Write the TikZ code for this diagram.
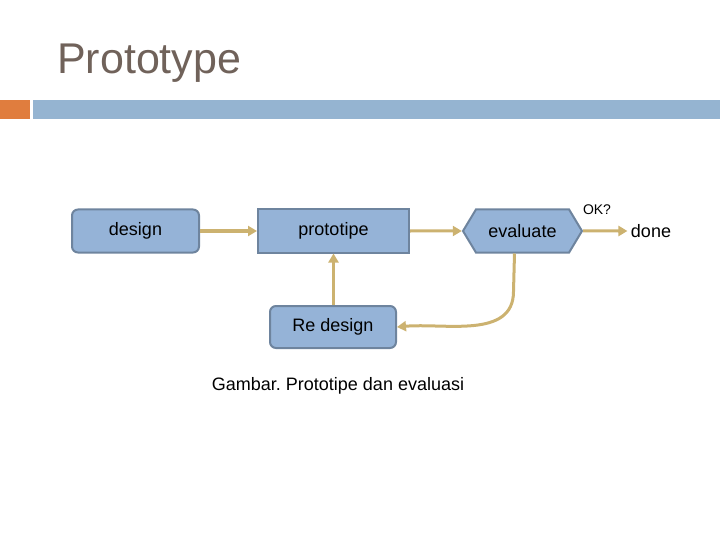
\documentclass[tikz,border=0pt]{standalone}
\usepackage{fontspec}
\setmainfont{Liberation Sans}
\usetikzlibrary{arrows.meta,shapes.symbols}
\definecolor{boxfill}{RGB}{149,179,215}
\definecolor{boxline}{RGB}{110,132,158}
\definecolor{flow}{RGB}{204,178,112}
\definecolor{titlecol}{RGB}{112,98,90}
\definecolor{barorange}{RGB}{224,125,62}
\definecolor{barblue}{RGB}{149,180,209}
\frenchspacing

\begin{document}
\begin{tikzpicture}[
        x=1pt, y=-1pt,
        >={Triangle[length=9pt,width=10pt]},
        every node/.style={font=\fontsize{18}{21}\selectfont},
        stepbox/.style={draw=boxline, fill=boxfill, line width=2pt, minimum height=43pt, inner sep=0pt},
        roundbox/.style={stepbox, rounded corners=6pt},
        evalbox/.style={stepbox, shape=signal, signal to=west and east, signal pointer angle=118, minimum width=119pt},
        flowline/.style={->, line width=3pt, draw=flow}
    ]

    \useasboundingbox (0,0) rectangle (720,540);

    % header
    \node[anchor=base west, text=titlecol, font=\fontsize{43}{50}\selectfont, inner sep=0pt] (title) at (57,74) {Prototype};
    \fill[barorange] (0,100) rectangle (30,119);
    \fill[barblue] (33,100) rectangle (720,119);

    % boxes
    \node[roundbox, minimum width=127pt] (design) at (135.5,231) {design};
    \node[stepbox, minimum width=151pt] (proto) at (333.5,231) {prototipe};
    \node[evalbox] (eval) at (522.5,231) {evaluate};
    \node (done) at (651,231) {done};
    \node[roundbox, minimum width=126pt, minimum height=42pt] (redesign) at (333,327) {Re design};
    \node[font=\fontsize{14}{16}\selectfont] (ok) at (597,210) {OK?};

    \coordinate (evb) at ([xshift=-8pt]eval.south);

    % connectors
    \draw[flowline] (design) -- (proto);
    \draw[flowline] (proto) -- (eval);
    \draw[flowline] (eval) -- (done);
    \draw[flowline] (redesign.north -| proto.south) -- (proto.south);
    \draw[flowline] (evb) -- ++(-1,38) to[out=-90, in=5] (redesign.east);

    \node (caption) at (338,386) {Gambar. Prototipe dan evaluasi};

    \end{tikzpicture}
\end{document}
